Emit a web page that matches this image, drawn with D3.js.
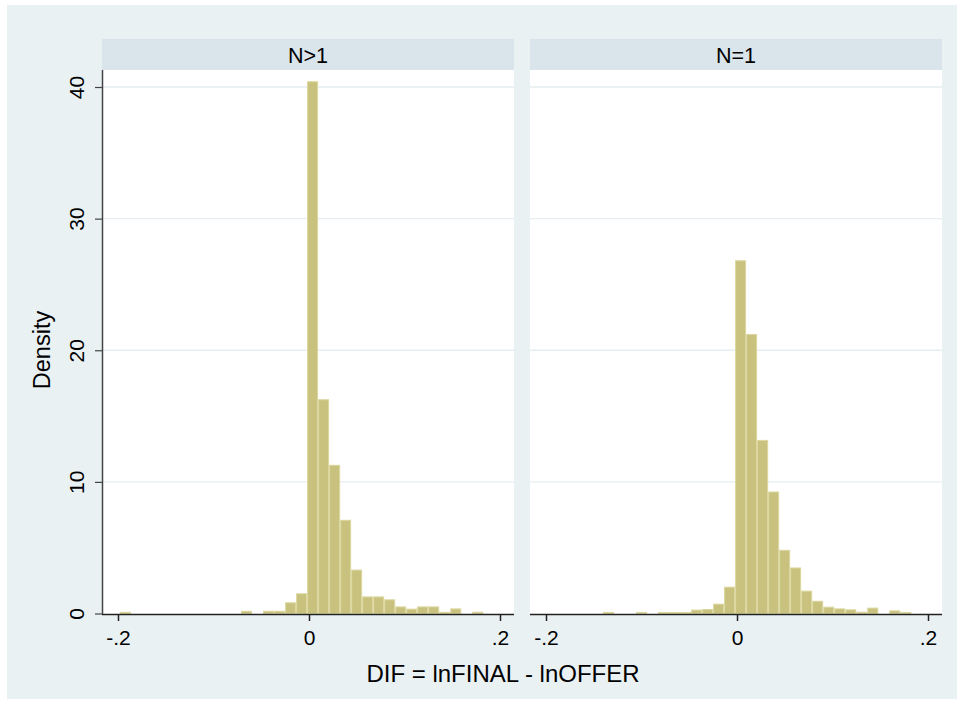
<!DOCTYPE html>
<html><head><meta charset="utf-8">
<script src="https://cdn.jsdelivr.net/npm/d3@7"></script>
<style>html,body{margin:0;padding:0;background:#fff;}svg{display:block;}</style>
</head><body>
<svg id="c" width="964" height="704"></svg>
<script>
// ---- data ----
const panels = ["N>1", "N=1"];
const binStart = -0.198;
const binWidth = 0.01153;
const densityN_gt1 = [0.09,0,0,0,0,0,0,0,0,0,0,0.17,0,0.17,0.17,0.81,1.5,40.4,16.24,11.26,7.08,3.3,1.26,1.26,1.04,0.5,0.33,0.5,0.5,0.09,0.35,0,0.1];
const densityN_eq1 = [0,0,0,0,0,0.08,0,0,0.08,0,0.08,0.08,0.08,0.26,0.3,0.71,2.0,26.8,21.2,13.15,9.23,4.8,3.46,1.7,0.93,0.48,0.35,0.28,0.1,0.41,0,0.2,0.08];
const xTicks = [-0.2, 0, 0.2];
const xTickLabels = ["-.2", "0", ".2"];
const yTicks = [0, 10, 20, 30, 40];
const xTitle = "DIF = lnFINAL - lnOFFER";
const yTitle = "Density";

const svg = d3.select("#c");
const font = "'Liberation Sans', Arial, Helvetica, sans-serif";

// outer region
svg.append("rect").attr("x",7).attr("y",5).attr("width",950).attr("height",694).attr("fill","#eaf1f3");

const plotTop = 70, plotBottom = 614;
const y = d3.scaleLinear().domain([0,40]).range([613.5, 87]);
const panelLeft = [102, 530];
const panelW = 412;
const series = [densityN_gt1, densityN_eq1];

panels.forEach((name, p) => {
  const L = panelLeft[p];
  const x = d3.scaleLinear().domain([-0.2, 0.2]).range([L + 16, L + 398]);
  const g = svg.append("g");
  // header strip
  g.append("rect").attr("x",L).attr("y",39).attr("width",panelW).attr("height",31).attr("fill","#d9e5ea");
  g.append("text").attr("x",L+panelW/2).attr("y",63).attr("text-anchor","middle")
    .attr("font-family",font).attr("font-size",21.5).attr("fill","#000").text(name);
  // plot region
  g.append("rect").attr("x",L).attr("y",plotTop).attr("width",panelW).attr("height",plotBottom-plotTop).attr("fill","#fff");
  // gridlines
  g.selectAll("line.grid").data(yTicks.filter(d=>d>0)).join("line")
    .attr("x1",L).attr("x2",L+panelW).attr("y1",d=>y(d)).attr("y2",d=>y(d))
    .attr("stroke","#e6eef1").attr("stroke-width",1.3);
  // bars
  const bins = series[p].map((v,i)=>({x0: binStart + i*binWidth, x1: binStart + (i+1)*binWidth, v}));
  g.selectAll("rect.bar").data(bins.filter(b=>b.v>0)).join("rect")
    .attr("x",b=>x(b.x0)+0.5).attr("width",b=>x(b.x1)-x(b.x0)-1)
    .attr("y",b=>y(b.v)).attr("height",b=>y(0)-y(b.v))
    .attr("fill","#c9c27e").attr("stroke","#dcd79f").attr("stroke-width",1);
  // x axis
  const xAxis = d3.axisBottom(x).tickValues(xTicks).tickFormat((d,i)=>xTickLabels[i]).tickSize(7).tickSizeOuter(0);
  const ax = g.append("g").attr("transform",`translate(0,${plotBottom})`).call(xAxis);
  ax.select(".domain").attr("d",`M${L},0.5H${L+panelW}`).attr("stroke","#222").attr("stroke-width",1.5);
  ax.selectAll(".tick line").attr("stroke","#222").attr("stroke-width",1.5);
  ax.selectAll(".tick text").attr("font-family",font).attr("font-size",21).attr("fill","#000")
    .attr("y",31).attr("dy",0);
  // y axis for first panel
  if (p === 0) {
    const yAxis = d3.axisLeft(y).tickValues(yTicks).tickSize(7).tickSizeOuter(0);
    const ay = g.append("g").attr("transform",`translate(${L},0)`).call(yAxis);
    ay.select(".domain").attr("d",`M0.5,${plotTop}V${plotBottom}`).attr("stroke","#444").attr("stroke-width",1.5);
    ay.selectAll(".tick line").attr("stroke","#444").attr("stroke-width",1.2);
    ay.selectAll(".tick text").attr("font-family",font).attr("font-size",21).attr("fill","#000")
      .attr("x",0).attr("y",0).attr("dy",0).attr("text-anchor","middle")
      .attr("transform","translate(-18,0) rotate(-90)");
  }
});

// titles
svg.append("text").attr("x",503).attr("y",682).attr("text-anchor","middle")
  .attr("font-family",font).attr("font-size",24).attr("fill","#000").text(xTitle);
svg.append("text").attr("transform","translate(50,350) rotate(-90)").attr("text-anchor","middle")
  .attr("font-family",font).attr("font-size",23.5).attr("fill","#000").text(yTitle);
</script>
</body></html>
